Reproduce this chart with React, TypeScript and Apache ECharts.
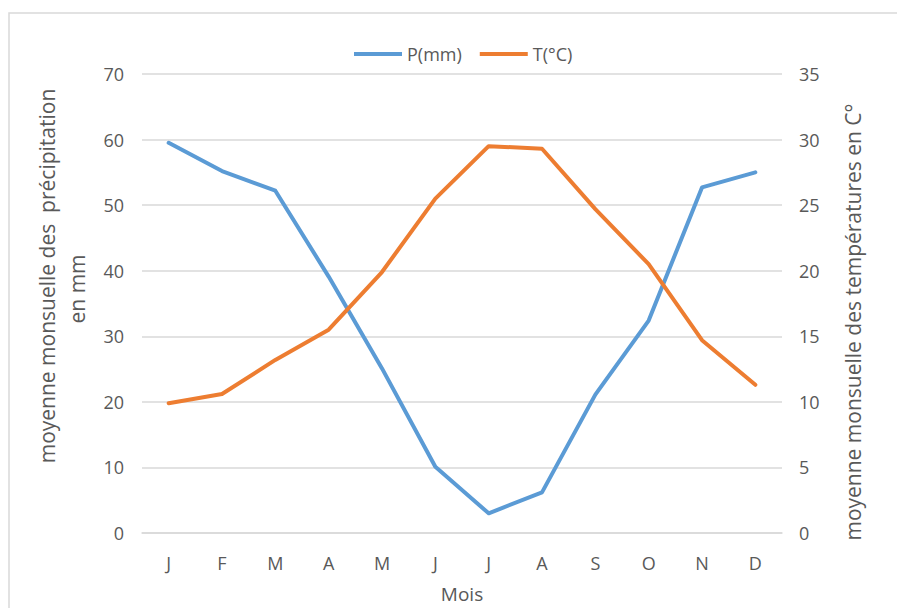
import React, { useEffect, useRef } from "react";
import * as echarts from "echarts";

const months = ["J", "F", "M", "A", "M", "J", "J", "A", "S", "O", "N", "D"];
const precipitation = [59.5, 55.2, 52.2, 39.1, 25.1, 10.1, 3.0, 6.2, 21.1, 32.4, 52.7, 55.0];
const temperature = [9.9, 10.6, 13.2, 15.5, 19.9, 25.5, 29.5, 29.3, 24.7, 20.5, 14.7, 11.3];
const leftTicks = { min: 0, max: 70, interval: 10 };
const rightTicks = { min: 0, max: 35, interval: 5 };
const leftTitle = ["moyenne monsuelle des  précipitation", "en mm"];
const rightTitle = "moyenne monsuelle des températures en C°";

const FONT = "'Open Sans', 'Liberation Sans', sans-serif";
const GREY = "#595959";

export default function App() {
  const ref = useRef<HTMLDivElement>(null);
  useEffect(() => {
    const chart = echarts.init(ref.current!, null, { renderer: "svg" });
    const titleStyle = (text: string) => ({
      text,
      fill: GREY,
      font: `21px ${FONT}`,
      align: "center",
      verticalAlign: "middle",
    });
    chart.setOption({
      animation: false,
      backgroundColor: "#ffffff",
      textStyle: { fontFamily: FONT },
      graphic: [
        {
          type: "rect",
          shape: { x: 9, y: 13, width: 900, height: 620 },
          style: { fill: "none", stroke: "#d9d9d9", lineWidth: 1.5 },
        },
        { type: "text", x: 47, y: 276, rotation: Math.PI / 2, style: titleStyle(leftTitle[0]) },
        { type: "text", x: 77, y: 289, rotation: Math.PI / 2, style: titleStyle(leftTitle[1]) },
        { type: "text", x: 853, y: 322, rotation: Math.PI / 2, style: titleStyle(rightTitle) },
      ],
      legend: {
        top: 40,
        left: 349,
        itemWidth: 48,
        itemHeight: 4,
        itemGap: 18,
        icon: "rect",
        textStyle: { color: GREY, fontSize: 18, fontFamily: FONT },
        data: ["P(mm)", "T(°C)"],
      },
      grid: { left: 142, width: 640, top: 74, height: 463, containLabel: false },
      xAxis: {
        type: "category",
        data: months,
        boundaryGap: true,
        name: "Mois",
        nameLocation: "middle",
        nameGap: 51,
        nameTextStyle: { color: GREY, fontSize: 19, fontFamily: FONT },
        axisLine: { show: true, lineStyle: { color: "#d9d9d9", width: 1.5 } },
        axisTick: { show: false },
        axisLabel: { color: GREY, fontSize: 18, margin: 21, fontFamily: FONT },
      },
      yAxis: [
        {
          type: "value",
          min: leftTicks.min,
          max: leftTicks.max,
          interval: leftTicks.interval,
          position: "left",
          axisLine: { show: false },
          axisTick: { show: false },
          axisLabel: { color: GREY, fontSize: 18, margin: 18, fontFamily: FONT },
          splitLine: { lineStyle: { color: "#d9d9d9", width: 1.5 } },
        },
        {
          type: "value",
          min: rightTicks.min,
          max: rightTicks.max,
          interval: rightTicks.interval,
          position: "right",
          axisLine: { show: false },
          axisTick: { show: false },
          axisLabel: { color: GREY, fontSize: 18, margin: 17, fontFamily: FONT },
          splitLine: { show: false },
        },
      ],
      series: [
        {
          name: "P(mm)",
          type: "line",
          yAxisIndex: 0,
          data: precipitation,
          showSymbol: false,
          symbol: "none",
          lineStyle: { color: "#5B9BD5", width: 4, cap: "round", join: "round" },
          itemStyle: { color: "#5B9BD5" },
        },
        {
          name: "T(°C)",
          type: "line",
          yAxisIndex: 1,
          data: temperature,
          showSymbol: false,
          symbol: "none",
          lineStyle: { color: "#ED7D31", width: 4, cap: "round", join: "round" },
          itemStyle: { color: "#ED7D31" },
        },
      ],
    });
    return () => chart.dispose();
  }, []);
  return (
    <div
      ref={ref}
      style={{ position: "absolute", left: 0, top: 0, width: 897, height: 608 }}
    />
  );
}
